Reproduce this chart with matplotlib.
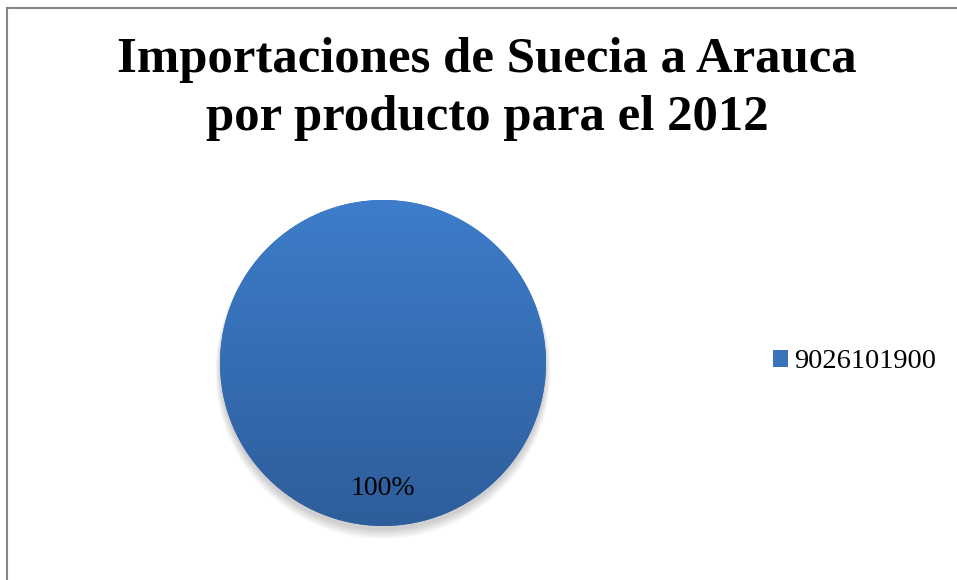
import numpy as np
import matplotlib
matplotlib.use("Agg")
import matplotlib.pyplot as plt
from matplotlib.patches import Rectangle, Circle
from matplotlib.colors import LinearSegmentedColormap

# datos
productos = ["9026101900"]
valores = [100.0]
titulo = "Importaciones de Suecia a Arauca\npor producto para el 2012"

W, H = 957, 580
fig = plt.figure(figsize=(W / 100, H / 100), dpi=100)
fig.patch.set_facecolor("white")

# marco del grafico (sale por la derecha y abajo)
fig.patches.append(Rectangle((7.5 / W, -0.1), 1.2, (H - 7.5) / H + 0.1,
                             transform=fig.transFigure, fill=False,
                             edgecolor="#868686", linewidth=1.5))

fig.text(487 / W, 1 - 89 / H, titulo, ha="center", va="center",
         fontsize=36.5, fontweight="bold", family="Liberation Serif",
         linespacing=1.32)

# pastel
cx, cy, r = 383, H - 363, 163
box = 175
ax = fig.add_axes([(cx - box) / W, (cy - box) / H, 2 * box / W, 2 * box / H])

wedges, textos = ax.pie(valores, radius=1.0, startangle=90,
                        colors=["#3a73b9"], labels=None,
                        wedgeprops=dict(linewidth=0))
for w in wedges:
    w.set_zorder(1)

lim = box / r
ax.set_aspect("equal")
ax.axis("off")

# sombra
for k in range(8):
    ax.add_patch(Circle((0, -0.025 - k * 0.004), 1.0 + k * 0.004,
                        color="black", alpha=0.025, lw=0, zorder=0))

# degradado vertical
grad = LinearSegmentedColormap.from_list("g", ["#2e5d9b", "#3d7dca"])
img = ax.imshow(np.linspace(0, 1, 256).reshape(-1, 1), cmap=grad,
                extent=[-1, 1, -1, 1], origin="lower", aspect="auto", zorder=2)
img.set_clip_path(wedges[0])
ax.set_xlim(-lim, lim)
ax.set_ylim(-lim, lim)

total = sum(valores)
for v in valores:
    ax.text(0, -0.77, f"{v / total * 100:.0f}%", ha="center", va="center",
            fontsize=20, family="Liberation Serif", color="black", zorder=3)

# leyenda
leg = fig.legend([wedges[0]], productos, loc="center left",
                 bbox_to_anchor=(747 / W, 1 - 362 / H), frameon=False,
                 prop=dict(family="Liberation Serif", size=20.5),
                 handlelength=0.55, handleheight=0.55, handletextpad=0.22)

fig.savefig("out.png", dpi=100)
